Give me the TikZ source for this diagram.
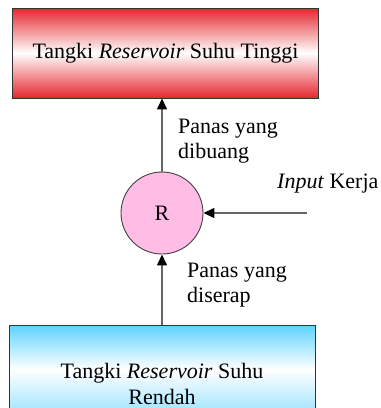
\documentclass[tikz,border=0pt]{standalone}
\usepackage{fontspec}
\setmainfont{Liberation Serif}
\usetikzlibrary{arrows.meta}
\definecolor{hotred}{HTML}{E5262E}
\definecolor{coldblue}{HTML}{5FD3FF}
\definecolor{rpink}{HTML}{FFBCE4}
\begin{document}
\begin{tikzpicture}[x=1pt,y=1pt,
  tank/.style={draw=black!80, line width=0.9pt, minimum width=306pt, inner sep=0pt, align=center,
    font=\fontsize{22}{26}\selectfont},
  flow/.style={draw=black!60, line width=1.4pt,
    -{Triangle[length=11pt,width=10pt,color=black]}},
  lbl/.style={anchor=north west, align=left, inner sep=0pt, font=\fontsize{22}{24.5}\selectfont},
]
\useasboundingbox (0,0) rectangle (381,-408);
\clip (0,0) rectangle (381,-408);
% hot reservoir
\node[tank, minimum height=90pt, top color=hotred, bottom color=hotred, middle color=white]
  (hot) at (165.5,-53) {Tangki \textit{Reservoir} Suhu Tinggi};
% cold reservoir (extends beyond the lower edge)
\node[tank, minimum height=88pt, top color=coldblue, bottom color=coldblue!60, middle color=white,
  anchor=north]
  (cold) at (162,-325) {};
\node[font=\fontsize{22}{26}\selectfont, align=center, inner sep=0pt, anchor=north]
  (coldtxt) at (162,-363) {Tangki \textit{Reservoir} Suhu\\Rendah};
% refrigerator
\node[circle, draw=black!75, line width=0.9pt, fill=rpink, minimum size=82pt, inner sep=0pt,
  font=\fontsize{22}{25}\selectfont] (R) at (162,-213) {R};
\coordinate (win) at (307,-213);
% connectors
\draw[flow] (R.north) -- (R.north |- hot.south);
\draw[flow] (R.south |- cold.north) -- (R.south);
\draw[flow] (win) -- (R.east);
% labels
\node[lbl] (out) at (178,-119) {Panas yang\\dibuang};
\node[lbl] (in) at (187,-263) {Panas yang\\diserap};
\node[lbl] (work) at (277,-174) {\textit{Input} Kerja};
\end{tikzpicture}
\end{document}
